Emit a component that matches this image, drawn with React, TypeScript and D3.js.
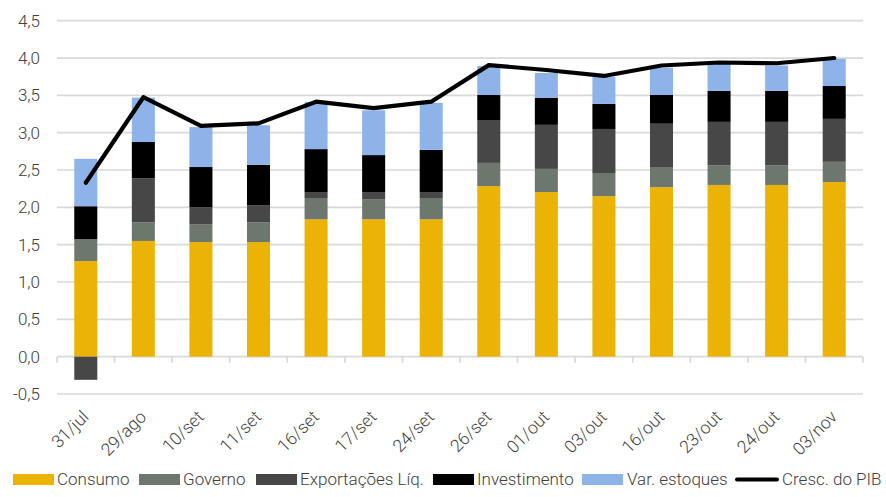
import React from "react";
import * as d3 from "d3";

const categories = [
  "31/jul", "29/ago", "10/set", "11/set", "16/set", "17/set", "24/set",
  "26/set", "01/out", "03/out", "16/out", "23/out", "24/out", "03/nov",
];

const consumo = [1.28, 1.55, 1.535, 1.535, 1.84, 1.84, 1.84, 2.285, 2.205, 2.15, 2.27, 2.3, 2.3, 2.34];
const governo = [0.295, 0.25, 0.24, 0.265, 0.285, 0.27, 0.285, 0.31, 0.31, 0.31, 0.27, 0.265, 0.265, 0.27];
const exportacoes = [-0.31, 0.59, 0.225, 0.23, 0.08, 0.095, 0.08, 0.575, 0.59, 0.59, 0.58, 0.58, 0.58, 0.575];
const investimento = [0.44, 0.485, 0.54, 0.54, 0.575, 0.495, 0.565, 0.335, 0.36, 0.335, 0.385, 0.415, 0.415, 0.44];
const varEstoques = [0.635, 0.595, 0.535, 0.53, 0.63, 0.6, 0.63, 0.39, 0.335, 0.36, 0.365, 0.36, 0.34, 0.365];
const crescPib = [2.33, 3.475, 3.09, 3.125, 3.415, 3.33, 3.415, 3.905, 3.84, 3.76, 3.9, 3.94, 3.93, 4.0];

const yTicks = [-0.5, 0, 0.5, 1, 1.5, 2, 2.5, 3, 3.5, 4, 4.5];

const series = [
  { key: "consumo", label: "Consumo", color: "#EBB305", values: consumo },
  { key: "governo", label: "Governo", color: "#6E776E", values: governo },
  { key: "exportacoes", label: "Exportações Líq.", color: "#474747", values: exportacoes },
  { key: "investimento", label: "Investimento", color: "#000000", values: investimento },
  { key: "varEstoques", label: "Var. estoques", color: "#8DB3E8", values: varEstoques },
];

const width = 886;
const height = 497;
const font = "Roboto, 'Noto Sans', sans-serif";

export default function App() {
  const x = d3
    .scaleBand()
    .domain(categories)
    .range([57, 863])
    .paddingInner(0.6)
    .paddingOuter(0.3);

  const y = d3.scaleLinear().domain([-0.5, 4.5]).range([394, 20.7]);

  const rows = categories.map((c, i) => {
    const r: Record<string, any> = { cat: c };
    series.forEach((s) => (r[s.key] = s.values[i]));
    return r;
  });

  const stacked = d3
    .stack<Record<string, any>>()
    .keys(series.map((s) => s.key))
    .offset(d3.stackOffsetDiverging)(rows);

  const line = d3
    .line<number>()
    .x((_, i) => (x(categories[i]) as number) + x.bandwidth() / 2)
    .y((d) => y(d));

  const step = x.step();
  const left = 57;
  const y0 = y(0);

  const legend = [
    { x: 13, tx: 57 },
    { x: 139, tx: 183 },
    { x: 256, tx: 300 },
    { x: 433, tx: 477 },
    { x: 582, tx: 627 },
  ];

  return (
    <div>
      <style>{`body{margin:0}`}</style>
      <svg width={width} height={height} style={{ display: "block", fontFamily: font }}>
        <rect width={width} height={height} fill="#fff" />
        {yTicks.map((t) => (
          <g key={t}>
            <line x1={left} x2={863} y1={y(t)} y2={y(t)} stroke="#D9D9D9" strokeWidth={1.7} />
            <text
              x={40}
              y={y(t)}
              dy="0.35em"
              textAnchor="end"
              fontSize={17}
              fontWeight={300}
              fill="#404040"
            >
              {d3.format(".1f")(t).replace(".", ",").replace("−", "-")}
            </text>
          </g>
        ))}
        {d3.range(categories.length + 1).map((i) => (
          <line
            key={i}
            x1={left + i * step}
            x2={left + i * step}
            y1={y0}
            y2={y0 + 6}
            stroke="#D9D9D9"
            strokeWidth={1.7}
          />
        ))}
        {stacked.map((layer, li) => (
          <g key={layer.key} fill={series[li].color}>
            {layer.map((d, i) => (
              <rect
                key={i}
                x={x(categories[i])}
                width={x.bandwidth()}
                y={y(Math.max(d[0], d[1]))}
                height={Math.abs(y(d[0]) - y(d[1]))}
              />
            ))}
          </g>
        ))}
        <path
          d={line(crescPib) || ""}
          fill="none"
          stroke="#000"
          strokeWidth={4.2}
          strokeLinejoin="round"
          strokeLinecap="round"
        />
        {categories.map((c) => {
          const cx = (x(c) as number) + x.bandwidth() / 2 + 4;
          const cy = 418;
          return (
            <text
              key={c}
              transform={`translate(${cx},${cy}) rotate(-45)`}
              textAnchor="end"
              fontSize={17.5}
              fontWeight={300}
              fill="#404040"
            >
              {c}
            </text>
          );
        })}
        {series.map((s, i) => (
          <g key={s.key}>
            <rect x={legend[i].x} y={474} width={41} height={11} fill={s.color} />
            <text x={legend[i].tx} y={479.5} dy="0.35em" fontSize={17} fontWeight={300} fill="#404040">
              {s.label}
            </text>
          </g>
        ))}
        <line x1={737} x2={777} y1={479.5} y2={479.5} stroke="#000" strokeWidth={4} strokeLinecap="round" />
        <text x={782} y={479.5} dy="0.35em" fontSize={17} fontWeight={300} fill="#404040">
          Cresc. do PIB
        </text>
      </svg>
    </div>
  );
}
